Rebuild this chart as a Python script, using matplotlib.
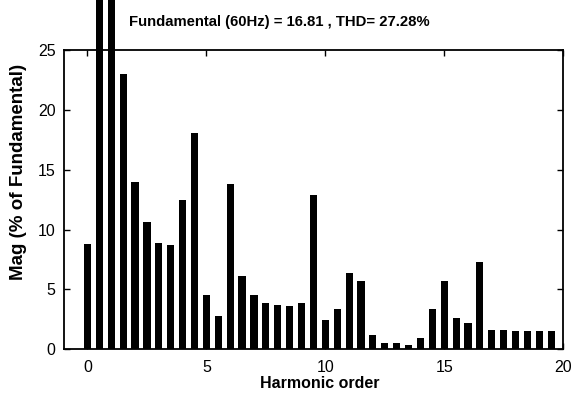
import numpy as np
import matplotlib
matplotlib.use('Agg')
import matplotlib.pyplot as plt

# harmonic order (step 0.5) and magnitude in % of fundamental
order = np.arange(0, 20, 0.5)
mag = [8.8, 35.0, 100.0, 23.0, 14.0, 10.6, 8.9, 8.7, 12.5, 18.1,
       4.5, 2.8, 13.8, 6.1, 4.5, 3.9, 3.7, 3.6, 3.9, 12.9,
       2.4, 3.4, 6.4, 5.7, 1.2, 0.5, 0.5, 0.35, 0.9, 3.4,
       5.7, 2.6, 2.2, 7.3, 1.6, 1.6, 1.5, 1.5, 1.5, 1.5]

title_text = 'Fundamental (60Hz) = 16.81 , THD= 27.28%'

plt.rcParams['font.family'] = ['Liberation Sans', 'DejaVu Sans']

fig = plt.figure(figsize=(5.74, 4.0), dpi=100)
ax = fig.add_axes([0.111, 0.127, 0.870, 0.748])

ax.bar(order, mag, width=0.3, color='black', clip_on=False)

ax.set_xlim(-1, 20)
ax.set_ylim(0, 25)
ax.set_xticks([0, 5, 10, 15, 20])
ax.set_yticks([0, 5, 10, 15, 20, 25])
ax.tick_params(direction='in', top=True, right=True, length=4, width=1,
               labelsize=11.5)
ax.tick_params(axis='x', pad=8)
ax.tick_params(axis='y', pad=6)
for s in ax.spines.values():
    s.set_linewidth(1.3)

ax.set_xlabel('Harmonic order', fontsize=11.5, fontweight='bold')
ax.xaxis.set_label_coords(0.513, -0.09)
ax.set_ylabel('Mag (% of Fundamental)', fontsize=13.5, fontweight='bold')
ax.yaxis.set_label_coords(-0.074, 0.593)
fig.text(0.487, 0.944, title_text, ha='center', va='center',
         fontsize=10.7, fontweight='bold')

fig.savefig('out.png', dpi=100)
